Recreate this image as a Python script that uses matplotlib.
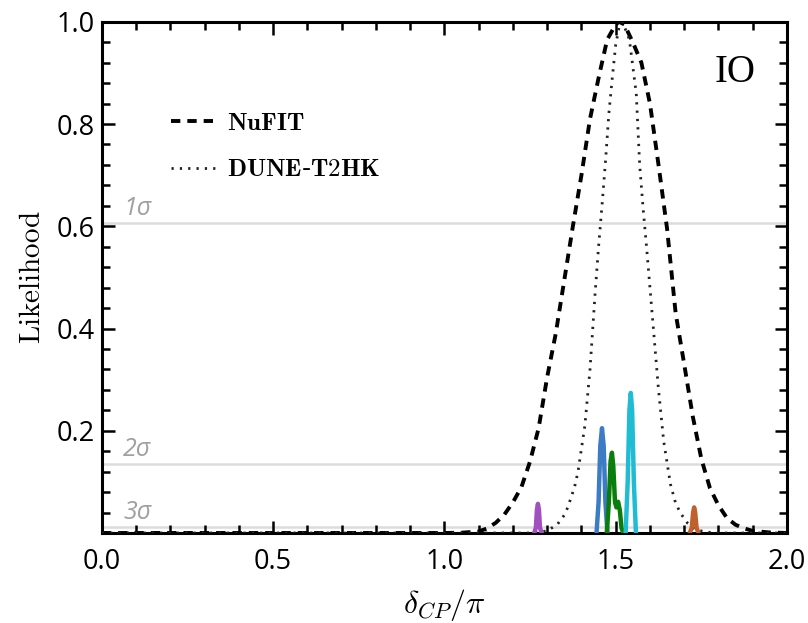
import matplotlib
matplotlib.use("Agg")
import matplotlib.pyplot as plt
from matplotlib.ticker import MultipleLocator, FixedLocator
from matplotlib.lines import Line2D

plt.rcParams['mathtext.fontset'] = 'cm'

# ---- data ----
nufit_x = [0.0, 1.00, 1.05, 1.10, 1.125, 1.15, 1.175, 1.20, 1.225, 1.25, 1.275, 1.30, 1.325,
           1.35, 1.375, 1.40, 1.425, 1.45, 1.475, 1.50, 1.51, 1.525, 1.55, 1.575, 1.60,
           1.625, 1.65, 1.675, 1.70, 1.725, 1.75, 1.775, 1.80, 1.825, 1.85, 1.875, 1.90,
           1.95, 2.0]
nufit_y = [0.0, 0.0, 0.0005, 0.003, 0.009, 0.02, 0.036, 0.06, 0.09, 0.14, 0.205, 0.305, 0.39,
           0.495, 0.60, 0.70, 0.81, 0.89, 0.965, 0.995, 1.0, 0.995, 0.96, 0.92, 0.84,
           0.72, 0.595, 0.43, 0.33, 0.228, 0.145, 0.088, 0.054, 0.029, 0.016, 0.009, 0.004,
           0.001, 0.0]

dune_x = [0.0, 1.25, 1.30, 1.33, 1.35, 1.36, 1.37, 1.38, 1.39, 1.40, 1.41, 1.425, 1.44, 1.45,
          1.46, 1.47, 1.48, 1.49, 1.50, 1.51, 1.52, 1.54, 1.56, 1.57, 1.58, 1.59, 1.60,
          1.61, 1.625, 1.64, 1.65, 1.66, 1.675, 1.69, 1.71, 1.73, 1.76, 1.80, 2.0]
dune_y = [0.0, 0.0, 0.004, 0.017, 0.035, 0.05, 0.07, 0.09, 0.12, 0.165, 0.21, 0.32, 0.47, 0.56,
          0.64, 0.725, 0.82, 0.89, 0.955, 0.99, 1.0, 0.965, 0.86, 0.72, 0.635, 0.56, 0.48,
          0.40, 0.28, 0.18, 0.137, 0.095, 0.058, 0.038, 0.019, 0.008, 0.002, 0.0, 0.0]

purple_x = [1.262, 1.267, 1.270, 1.273, 1.276, 1.279, 1.284]
purple_y = [0.0, 0.01, 0.045, 0.057, 0.045, 0.01, 0.0]
blue_x = [1.444, 1.450, 1.455, 1.460, 1.465, 1.470, 1.476]
blue_y = [0.0, 0.06, 0.17, 0.205, 0.17, 0.06, 0.0]
green_x = [1.474, 1.480, 1.485, 1.489, 1.493, 1.498, 1.502, 1.507, 1.512, 1.517, 1.522]
green_y = [0.0, 0.06, 0.14, 0.157, 0.13, 0.06, 0.05, 0.061, 0.045, 0.01, 0.0]
cyan_x = [1.529, 1.535, 1.540, 1.544, 1.548, 1.553, 1.559]
cyan_y = [0.0, 0.10, 0.24, 0.274, 0.24, 0.10, 0.0]
orange_x = [1.716, 1.722, 1.726, 1.729, 1.732, 1.736, 1.742]
orange_y = [0.0, 0.01, 0.04, 0.050, 0.04, 0.01, 0.0]

sigma_levels = [0.607, 0.135, 0.011]
sigma_labels = ['1σ', '2σ', '3σ']
x_ticks = [0.0, 0.5, 1.0, 1.5, 2.0]
y_ticks = [0.2, 0.4, 0.6, 0.8, 1.0]

# ---- figure ----
fig = plt.figure(figsize=(8.08, 6.23), dpi=100)
ax = fig.add_axes([0.126, 0.1445, 0.848, 0.8205])

for lvl, lab in zip(sigma_levels, sigma_labels):
    ax.axhline(lvl, color='#dcdcdc', lw=1.8, zorder=1)
    ax.text(0.063, lvl + 0.004, lab, color='#a0a0a0', fontsize=18, family='Open Sans',
            style='italic', va='bottom', ha='left', zorder=2)

ax.plot(nufit_x, nufit_y, color='black', lw=2.8, ls=(0, (2.4, 1.8)), zorder=3)
ax.plot(dune_x, dune_y, color='#222222', lw=2.0, ls=(0, (0.8, 2.2)), zorder=3)

spikes = [(purple_x, purple_y, '#a24fc0'), (blue_x, blue_y, '#3b7cc4'),
          (green_x, green_y, '#0a7d0a'), (cyan_x, cyan_y, '#1fbcd4'),
          (orange_x, orange_y, '#c0602a')]
for sx, sy, c in spikes:
    ax.plot(sx, sy, color=c, lw=3.2, solid_capstyle='round', solid_joinstyle='round', zorder=4)

ax.set_xlim(0, 2.0)
ax.set_ylim(0, 1.0)
ax.xaxis.set_major_locator(FixedLocator(x_ticks))
ax.xaxis.set_minor_locator(MultipleLocator(0.1))
ax.yaxis.set_major_locator(FixedLocator(y_ticks))
ax.yaxis.set_minor_locator(MultipleLocator(0.04))
ax.set_xticklabels([f'{v:.1f}' for v in x_ticks])
ax.set_yticklabels([f'{v:.1f}' for v in y_ticks])
ax.tick_params(which='both', direction='in', top=True, right=True, width=1.8, color='black')
ax.tick_params(which='major', length=9, labelsize=19.5)
ax.tick_params(axis='x', which='major', pad=11)
ax.tick_params(axis='y', which='major', pad=5)
ax.tick_params(which='minor', length=6)
for lbl in ax.get_xticklabels() + ax.get_yticklabels():
    lbl.set_family('Open Sans')
for sp in ax.spines.values():
    sp.set_linewidth(2.2)

ax.set_xlabel(r'$\delta_{CP}/\pi$', fontsize=23, labelpad=8)
ax.set_ylabel(r'$\mathrm{Likelihood}$', fontsize=21, labelpad=8)

ax.text(0.924, 0.90, 'IO', transform=ax.transAxes, fontsize=28, family='Liberation Serif',
        ha='center', va='center')

handles = [Line2D([], [], color='black', lw=2.8, ls=(0, (2.4, 1.8))),
           Line2D([], [], color='#222222', lw=2.0, ls=(0, (0.8, 2.2)))]
ax.legend(handles, [r'$\mathbf{NuFIT}$', r'$\mathbf{DUNE}$-$\mathbf{T2HK}$'],
          loc='upper left', bbox_to_anchor=(0.068, 0.87), frameon=False, fontsize=18,
          handlelength=1.8, handletextpad=0.45, labelspacing=0.9)

fig.savefig('out.png', dpi=100)
